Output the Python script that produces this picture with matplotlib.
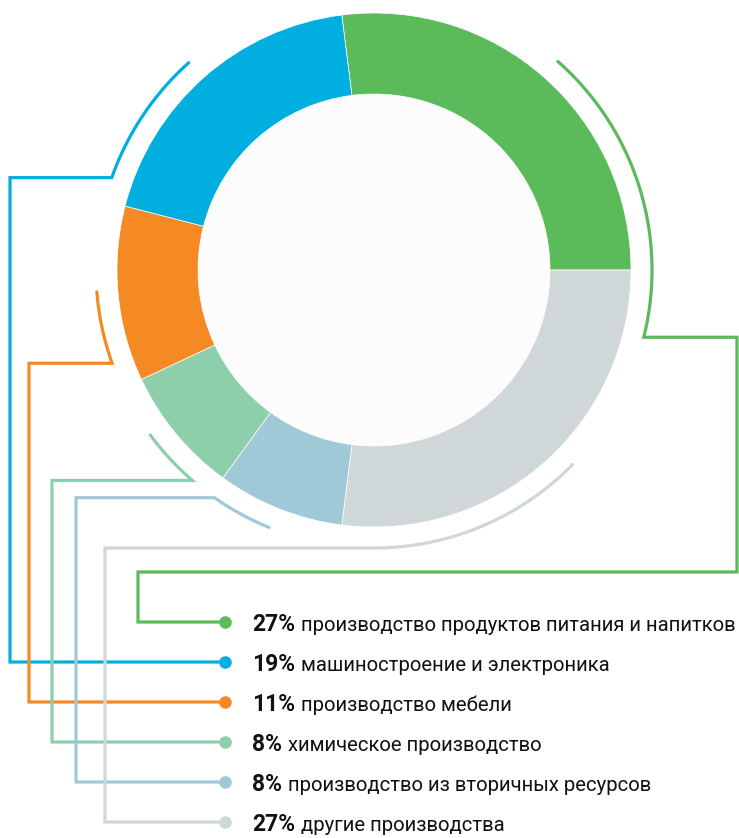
import numpy as np
import matplotlib
matplotlib.use("Agg")
import matplotlib.pyplot as plt

plt.rcParams['font.family'] = ['Roboto', 'DejaVu Sans']

# sectors, clockwise from the top
shares = [27, 27, 8, 8, 11, 19]
colors = ['#5bba5a', '#cfd7d9', '#a0c9d8', '#8ecfab', '#f58a24', '#00aee0']

# legend order
legend_pct = ['27%', '19%', '11%', '8%', '8%', '27%']
legend_txt = ['производство продуктов питания и напитков',
              'машиностроение и электроника',
              'производство мебели',
              'химическое производство',
              'производство из вторичных ресурсов',
              'другие производства']
legend_col = ['#5bba5a', '#00aee0', '#f58a24', '#8ecfab', '#a0c9d8', '#cfd7d9']

W, H = 739, 838
fig = plt.figure(figsize=(W / 100, H / 100), dpi=100)
ax = fig.add_axes([0, 0, 1, 1])

cx, cy = 374, 270
R, r_in = 257, 176
start = -shares[0] / 100 * 360  # y axis is flipped, so angles go the other way
ax.pie(shares, colors=colors, center=(cx, cy), radius=R, startangle=start,
       counterclock=True, frame=True,
       wedgeprops=dict(width=R - r_in, edgecolor='white', linewidth=0.5))
ax.add_patch(plt.Circle((cx, cy), r_in - 0.5, color='#fcfcfc', zorder=0.5))
ax.set_xlim(0, W)
ax.set_ylim(H, 0)
ax.set_aspect('equal')
ax.axis('off')

ra = 278
lw = 2.3
row_y = [622 + 40 * i for i in range(6)]
dot_x = 225


def arc(a0, a1):
    # screen angles in degrees, counterclockwise positive
    t = np.radians(np.linspace(a0, a1, 80))
    return list(cx + ra * np.cos(t)), list(cy - ra * np.sin(t))


def lead(xs, ys, col):
    ax.plot(xs, ys, color=col, lw=lw, solid_capstyle='round',
            solid_joinstyle='miter', zorder=3)


# green: arc on the right, around and down to the first row
xs, ys = arc(48.6, -14)
xs += [737, 737, 138, 138, dot_x]
ys += [ys[-1], 572, 572, row_y[0], row_y[0]]
lead(xs, ys, legend_col[0])

# blue
xs, ys = arc(131.8, 160.6)
xs += [10, 10, dot_x]
ys += [ys[-1], row_y[1], row_y[1]]
lead(xs, ys, legend_col[1])

# orange
xs, ys = arc(184.5, 199.6)
xs += [29, 29, dot_x]
ys += [ys[-1], row_y[2], row_y[2]]
lead(xs, ys, legend_col[2])

# light green
xs, ys = arc(216.4, 229.2)
xs += [52, 52, dot_x]
ys += [ys[-1], row_y[3], row_y[3]]
lead(xs, ys, legend_col[3])

# light blue: the corner sits at the start of the arc
xs, ys = arc(247.8, 235)
xs += [76, 76, dot_x]
ys += [ys[-1], row_y[4], row_y[4]]
lead(xs, ys, legend_col[4])

# gray
xs, ys = arc(-44.4, -90)
xs += [105, 105, dot_x]
ys += [ys[-1], row_y[5], row_y[5]]
lead(xs, ys, legend_col[5])

renderer = fig.canvas.get_renderer()
inv = ax.transData.inverted()
for y, p, t, c in zip(row_y, legend_pct, legend_txt, legend_col):
    ax.plot(dot_x, y, 'o', ms=8, color=c, zorder=4)
    tp = ax.text(252, y + 9, p, fontsize=16.5, fontweight='bold',
                 color='#111111', va='baseline', ha='left')
    x1 = inv.transform(tp.get_window_extent(renderer).p1)[0]
    ax.text(x1 + 6, y + 9, t, fontsize=14.6, color='#111111',
            va='baseline', ha='left')

fig.savefig('out.png', dpi=100)
